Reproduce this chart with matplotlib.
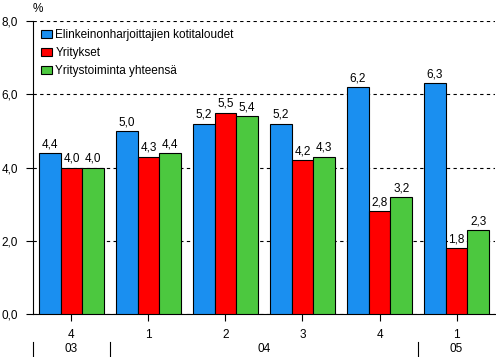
import numpy as np
import matplotlib
matplotlib.use('Agg')
import matplotlib.pyplot as plt
from matplotlib.patches import Patch

plt.rcParams['font.family'] = ['Liberation Sans', 'DejaVu Sans']

# data
quarters = ['4', '1', '2', '3', '4', '1']
years = ['03', '04', '05']
year_pos = [0, 2.5, 5]           # label centre (group index)
year_breaks = [-0.5, 0.5, 4.5]   # separator lines
series_names = ['Elinkeinonharjoittajien kotitaloudet', 'Yritykset',
                'Yritystoiminta yhteensä']
kotitaloudet = [4.4, 5.0, 5.2, 5.2, 6.2, 6.3]
yritykset = [4.0, 4.3, 5.5, 4.2, 2.8, 1.8]
yhteensa = [4.0, 4.4, 5.4, 4.3, 3.2, 2.3]
colors = ['#1a8ff0', '#ff0000', '#4cc83f']

fig = plt.figure(figsize=(4.96, 3.57), dpi=100)
ax = fig.add_axes([0.0665, 0.1204, 0.9315, 0.8206])

x = np.arange(len(quarters))
w = 0.2814
fs = 8.5

for i, (vals, c) in enumerate(zip([kotitaloudet, yritykset, yhteensa], colors)):
    pos = x + (i - 1) * w
    ax.bar(pos, vals, width=w, color=c, edgecolor='black', linewidth=0.8, zorder=3)
    for px, v in zip(pos, vals):
        ax.annotate(f'{v:.1f}'.replace('.', ','), (px, v), xytext=(0, 2),
                    textcoords='offset points', ha='center', va='bottom',
                    fontsize=fs, zorder=5,
                    bbox=dict(boxstyle='square,pad=0.05', fc='white', ec='none'))

ax.set_xlim(-0.5, 5.5)
ax.set_ylim(0, 8)
ax.set_yticks([0, 2, 4, 6, 8])
ax.set_yticklabels([f'{t:.1f}'.replace('.', ',') for t in [0, 2, 4, 6, 8]], fontsize=fs)
ax.yaxis.grid(True, linestyle=(0, (3, 3)), color='black', linewidth=0.8, zorder=0)
ax.set_axisbelow(True)

ax.set_xticks(x)
ax.set_xticklabels(quarters, fontsize=fs)
ax.tick_params(axis='both', direction='out', length=5, width=0.8, pad=6)

for s in ['top', 'right']:
    ax.spines[s].set_visible(False)
ax.spines['left'].set_linewidth(0.8)
ax.spines['bottom'].set_linewidth(0.8)

# year row below the quarter labels
trans = ax.get_xaxis_transform()
for yl, yp in zip(years, year_pos):
    ax.text(yp, -0.118, yl, transform=trans, ha='center', va='center', fontsize=fs)
for b in year_breaks:
    ax.plot([b, b], [-0.095, -0.145], transform=trans, color='black',
            linewidth=0.8, clip_on=False)

ax.text(0.0, 1.02, '%', transform=ax.transAxes, ha='left', va='bottom', fontsize=fs)

handles = [Patch(facecolor=c, edgecolor='black', linewidth=0.8) for c in colors]
ax.legend(handles, series_names, loc='upper left', bbox_to_anchor=(0.0, 1.0),
          frameon=False, fontsize=fs, handlelength=0.9, handleheight=0.7,
          handletextpad=0.3, labelspacing=0.5, borderaxespad=0.3)

fig.savefig('out.png', dpi=100)
